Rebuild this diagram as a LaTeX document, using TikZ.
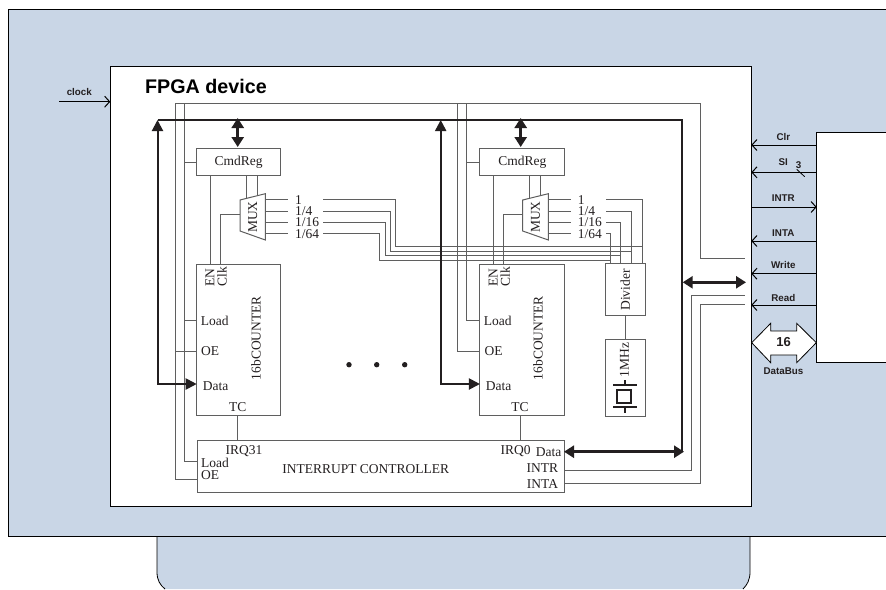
\documentclass[tikz,border=0pt]{standalone}
\usepackage{fontspec}
\setmainfont{Liberation Serif}
\setsansfont{Liberation Sans}
\usepackage{xcolor}
\usetikzlibrary{arrows.meta,positioning}
\definecolor{boardblue}{HTML}{C9D6E6}
\definecolor{wiregrey}{HTML}{5F5F5F}
\definecolor{inkdark}{HTML}{231F20}

\begin{document}
\begin{tikzpicture}[x=1pt, y=-1pt,
  box/.style={draw=wiregrey, line width=1pt, fill=white, outer sep=0pt, inner sep=0pt},
  wire/.style={draw=wiregrey, line width=1pt},
  bus/.style={draw=inkdark, line width=2pt},
  fatbus/.style={draw=inkdark, line width=3.2pt, {Triangle[length=10pt,width=12pt]}-{Triangle[length=10pt,width=12pt]}},
  upbus/.style={draw=inkdark, line width=2pt, {Triangle[length=11pt,width=11pt]}-{Triangle[length=11pt,width=11pt]}},
  pin/.style={draw=black, line width=1pt, -{Straight Barb[length=5pt,width=11pt]}},
  txt/.style={font=\fontsize{13.5}{14}\selectfont, text=inkdark, inner sep=0pt},
  sig/.style={font=\sffamily\bfseries\fontsize{9.8}{10}\selectfont, text=inkdark, inner sep=0pt}]
\useasboundingbox (0,0) rectangle (886,589);

% board and device
\fill[boardblue] (157,530) -- (157,572) .. controls (157,580) and (160,585) .. (165,589) -- (743,589) .. controls (747,585) and (750,580) .. (750,572) -- (750,530) -- cycle;
\draw[black, line width=0.8pt] (157,536) -- (157,572) .. controls (157,580) and (160,585) .. (165,589);
\draw[black, line width=0.8pt] (750,536) -- (750,572) .. controls (750,580) and (747,585) .. (743,589);
\fill[boardblue] (8.5,9) rectangle (886,536);
\draw[black, line width=1pt] (886,9) -- (8.5,9) -- (8.5,536) -- (886,536);
\node[draw=black, line width=1.2pt, fill=white, outer sep=0pt, minimum width=641pt, minimum height=440pt] (fpga) at (430.8,286.2) {};
\draw[black, line width=1.2pt, fill=white] (886,132.3) -- (816.7,132.3) -- (816.7,362.7) -- (886,362.7);
\coordinate (modClr) at (816.7,145);
\coordinate (modSi) at (816.7,172.3);
\coordinate (modIntr) at (816.7,207);
\coordinate (modInta) at (816.7,241);
\coordinate (modWrite) at (816.7,273.7);
\coordinate (modRead) at (816.7,305);
\node[font=\sffamily\bfseries\fontsize{19.7}{20}\selectfont, text=black, inner sep=0pt, anchor=west] (title) at (145,86) {FPGA device};

% clock and host signals
\coordinate (clkIn) at (59,101.7);
\node[sig] (clkLbl) at (79.3,91.7) {clock};
\draw[pin] (clkIn) -- (fpga.west |- clkIn);
\node[sig] (clrLbl) at (783.3,136.7) {Clr};
\node[sig] (siLbl) at (783.3,162.3) {SI};
\node[sig] (siNum) at (798.7,164.7) {3};
\node[sig] (intrLbl) at (783.3,197.7) {INTR};
\node[sig] (intaLbl) at (783.3,232.7) {INTA};
\node[sig] (writeLbl) at (783.3,265.3) {Write};
\node[sig] (readLbl) at (783.3,298.3) {Read};
\draw[pin] (modClr) -- (fpga.east |- modClr);
\draw[pin] (modSi) -- (fpga.east |- modSi);
\draw[black, line width=0.8pt] (796.7,169.3) -- (804.7,176.7);
\draw[pin] (fpga.east |- modIntr) -- (modIntr);
\draw[pin] (modInta) -- (fpga.east |- modInta);
\draw[pin] (modWrite) -- (fpga.east |- modWrite);
\draw[pin] (modRead) -- (fpga.east |- modRead);
\draw[black, line width=0.8pt, fill=white] (751.7,342.7) -- (770.7,323.3) -- (770.7,331) -- (796.7,331) -- (796.7,323.3) -- (816.3,342.7) -- (796.7,362.7) -- (796.7,355) -- (770.7,355) -- (770.7,362.7) -- cycle;
\node[sig, font=\sffamily\bfseries\fontsize{13}{14}\selectfont] (widthLbl) at (783.5,342.5) {16};
\node[sig] (dataBusLbl) at (783.5,370.7) {DataBus};

% boxes
\node[box, minimum width=84pt, minimum height=27.4pt] (cmdA) at (238.7,162) {};
\node[txt] (cmdLblA) at (cmdA) {CmdReg};
\node[box, minimum width=84.7pt, minimum height=27.4pt] (cmdB) at (522.3,162) {};
\node[txt] (cmdLblB) at (cmdB) {CmdReg};
\node[box, minimum width=84pt, minimum height=150.7pt] (cntA) at (238.7,339.7) {};
\node[box, minimum width=84.7pt, minimum height=150.7pt] (cntB) at (522.3,339.7) {};
\node[box, minimum width=367pt, minimum height=51.7pt] (irq) at (380.5,466.8) {};
\node[box, minimum width=40pt, minimum height=52pt] (divider) at (625.7,289.7) {};
\node[box, minimum width=40pt, minimum height=76.7pt, below=23.6pt of divider] (osc) {};

% counter texts
\node[txt, rotate=90] (enA) at (210,277.5) {EN};
\node[txt, rotate=90] (clkA) at (222,277) {Clk};
\node[txt, anchor=west] (loadA) at (200.7,320.7) {Load};
\node[txt, anchor=west] (oeA) at (201,351) {OE};
\node[txt, anchor=west] (dataA) at (202.7,386) {Data};
\node[txt, rotate=90] (nameA) at (256,338) {16bCOUNTER};
\node[txt] (tcA) at (237.7,406.7) {TC};
\node[txt, rotate=90] (enB) at (493.3,277.5) {EN};
\node[txt, rotate=90] (clkB) at (505.3,277) {Clk};
\node[txt, anchor=west] (loadB) at (483.7,320.7) {Load};
\node[txt, anchor=west] (oeB) at (484.3,351) {OE};
\node[txt, anchor=west] (dataB) at (485.7,386) {Data};
\node[txt, rotate=90] (nameB) at (538,338) {16bCOUNTER};
\node[txt] (tcB) at (520,406.7) {TC};
\node[txt, rotate=90] (divLbl) at (625.3,290) {Divider};
\node[txt, rotate=90] (oscLbl) at (624.3,360) {1MHz};

% interrupt controller texts
\node[txt] (irq31) at (244,450.7) {IRQ31};
\node[txt, anchor=west] (loadI) at (201,462.7) {Load};
\node[txt, anchor=west] (oeI) at (201,475.3) {OE};
\node[txt] (irqName) at (365.8,469.3) {INTERRUPT CONTROLLER};
\node[txt] (irq0) at (515.7,450.7) {IRQ0};
\node[txt] (dataI) at (548.7,451.7) {Data};
\node[txt, anchor=east] (intrI) at (558.3,467.7) {INTR};
\node[txt, anchor=east] (intaI) at (558.3,484.3) {INTA};

% multiplexers
\draw[wire, fill=white] (240,200) -- (265.3,193.7) -- (265.3,240) -- (240,231) -- cycle;
\node[txt, rotate=90] (muxA) at (252.7,217) {MUX};
\draw[wire, fill=white] (522.7,200) -- (548.3,193.7) -- (548.3,240) -- (522.7,231) -- cycle;
\node[txt, rotate=90] (muxB) at (535.5,217) {MUX};
\node[txt, anchor=west] (a1) at (295,200) {1};
\node[txt, anchor=west] (a4) at (295,211.5) {1/4};
\node[txt, anchor=west] (a16) at (295,222.5) {1/16};
\node[txt, anchor=west] (a64) at (295,234) {1/64};
\node[txt, anchor=west] (b1) at (577.7,200) {1};
\node[txt, anchor=west] (b4) at (577.7,211.5) {1/4};
\node[txt, anchor=west] (b16) at (577.7,222.5) {1/16};
\node[txt, anchor=west] (b64) at (577.7,234) {1/64};

% control lines from the host
\coordinate (oeTopA) at (175,103.5);
\coordinate (loadTopA) at (184,103.5);
\coordinate (oeTopB) at (457.7,103.5);
\coordinate (loadTopB) at (466.7,103.5);
\coordinate (topEnd) at (700.7,103.5);
\coordinate (writeEnd) at (745,258.3);
\coordinate (intrEnd) at (745,295.7);
\coordinate (intaEnd) at (745,304);
\draw[wire] (oeTopA) -- (topEnd) -- (topEnd |- writeEnd) -- (writeEnd);
\draw[wire] (oeTopA) -- (oeTopA |- 0,479) -- (irq.west |- 0,479);
\draw[wire] (loadTopA) -- (loadTopA |- 0,461.7) -- (irq.west |- 0,461.7);
\draw[wire] (loadTopA |- cmdA.west) -- (cmdA.west);
\draw[wire] (loadTopA |- loadA) -- (cntA.west |- loadA);
\draw[wire] (oeTopA |- oeA) -- (cntA.west |- oeA);
\draw[wire] (oeTopB) -- (oeTopB |- oeA) -- (cntB.west |- oeA);
\draw[wire] (loadTopB) -- (loadTopB |- loadA) -- (cntB.west |- loadA);
\draw[wire] (loadTopB |- cmdB.west) -- (cmdB.west);

% command register outputs
\draw[wire] (210.3,175.7) -- (210.3,264.3);
\draw[wire] (246.3,175.7) -- (246.3,198.4);
\draw[wire] (257.7,175.7) -- (257.7,195.6);
\draw[wire] (220,264.3) -- (220,214) -- (240,214);
\draw[wire] (493.3,175.7) -- (493.3,264.3);
\draw[wire] (529.3,175.7) -- (529.3,198.4);
\draw[wire] (540.7,175.7) -- (540.7,195.6);
\draw[wire] (503,264.3) -- (503,214) -- (522.7,214);

% divider outputs
\draw[wire] (265.3,199.7) -- (288.3,199.7);
\draw[wire] (265.3,211.3) -- (288.3,211.3);
\draw[wire] (265.3,222.3) -- (288.3,222.3);
\draw[wire] (265.3,233.7) -- (288.3,233.7);
\draw[wire] (548.3,199.7) -- (571,199.7);
\draw[wire] (548.3,211.3) -- (571,211.3);
\draw[wire] (548.3,222.3) -- (571,222.3);
\draw[wire] (548.3,233.7) -- (571,233.7);
\draw[wire] (323.3,199.7) -- (395,199.7) -- (395,246.7) -- (642.3,246.7) -- (642.3,263.7);
\draw[wire] (323.3,211.3) -- (390,211.3) -- (390,251) -- (631.7,251) -- (631.7,263.7);
\draw[wire] (323.3,222.3) -- (385,222.3) -- (385,255.3) -- (620.7,255.3) -- (620.7,263.7);
\draw[wire] (323.3,233.7) -- (379,233.7) -- (379,260.3) -- (610,260.3) -- (610,263.7);
\draw[wire] (606,199.7) -- (642.3,199.7) -- (642.3,246.7);
\draw[wire] (606,211.3) -- (631.7,211.3) -- (631.7,251);
\draw[wire] (606,222.3) -- (620.7,222.3) -- (620.7,255.3);
\draw[wire] (606,233.7) -- (610,233.7) -- (610,260.3);
\draw[wire] (divider.south) -- (osc.north);

% interrupt request lines
\draw[wire] (237.7,415) -- (237.7,441);
\draw[wire] (520,415) -- (520,441);
\draw[wire] (irq.east |- 0,470) -- (691.7,470) -- (691.7,295.7) -- (intrEnd);
\draw[wire] (irq.east |- 0,483.3) -- (700.7,483.3) -- (700.7,304) -- (intaEnd);

% data buses
\coordinate (busL) at (157.5,120);
\coordinate (busM) at (440.7,120);
\coordinate (busR) at (682.3,120);
\coordinate (busEnd) at (682.3,451.7);
\draw[bus] (busL) -- (busR) -- (busEnd);
\draw[upbus] (busL) -- (busL |- 0,384) -- (cntA.west |- 0,384);
\draw[upbus] (busM) -- (busM |- 0,384) -- (cntB.west |- 0,384);
\draw[fatbus] (237.7,118) -- (237.7,147);
\draw[fatbus] (520.7,118) -- (520.7,147);
\draw[fatbus] (irq.east |- busEnd) -- (684,451.7);
\draw[fatbus] (682.7,282.3) -- (746,282.3);

% crystal symbol
\draw[inkdark, line width=2pt] (613.3,385.3) -- (636.7,385.3);
\draw[inkdark, line width=2pt] (613.3,407.3) -- (636.7,407.3);
\draw[inkdark, line width=2pt] (616.7,390) rectangle (631.3,403.3);
\draw[inkdark, line width=2pt] (624.7,380) -- (624.7,385.3);
\draw[inkdark, line width=2pt] (624.7,407.3) -- (624.7,413.3);

% more counters
\fill[inkdark] (349,364.7) circle (2.7);
\fill[inkdark] (376.7,364.7) circle (2.7);
\fill[inkdark] (404.7,364.7) circle (2.7);
\end{tikzpicture}
\end{document}
